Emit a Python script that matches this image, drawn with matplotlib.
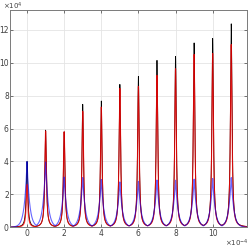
"""Periodic resonance peaks: total (black), red and blue components."""

import matplotlib
matplotlib.use('Agg')
import matplotlib.pyplot as plt
import numpy as np
from matplotlib.ticker import FuncFormatter

# peak positions (x 1e-4) and heights (x 1e4)
peak_pos = [0, 1, 2, 3, 4, 5, 6, 7, 8, 9, 10, 11]
black_h = [4.0, 5.9, 5.8, 7.47, 7.67, 8.68, 9.17, 10.14, 10.38, 11.2, 11.47, 12.36]
red_h = [2.6, 5.85, 5.8, 7.05, 7.3, 8.44, 8.56, 9.23, 9.63, 10.5, 10.56, 11.1]
blue_h = [4.0, 3.98, 3.05, 3.03, 2.9, 2.76, 2.8, 2.87, 2.87, 2.93, 2.97, 3.03]

x_ticks = [0, 2, 4, 6, 8, 10]
y_ticks = [0, 2, 4, 6, 8, 10, 12]

# peak half-widths (x 1e-4)
NARROW = 0.05
WIDE = 0.14

x = np.linspace(-0.92, 11.85, 8000)


def lorentz_peaks(heights, gamma):
    rows = [h * gamma**2 / ((x - p)**2 + gamma**2) for p, h in zip(peak_pos, heights)]
    return np.max(rows, axis=0)


def cusp_peaks(heights, w):
    rows = [h * np.exp(-np.abs(x - p) / w) for p, h in zip(peak_pos, heights)]
    return np.max(rows, axis=0)


fig = plt.figure(figsize=(2.49, 2.5), dpi=100)
ax = fig.add_axes([0.040, 0.091, 0.952, 0.869])

xs = x * 1e-4
ax.plot(xs, lorentz_peaks(black_h, NARROW) * 1e4, color='black', lw=0.6)
ax.plot(xs, lorentz_peaks(red_h, NARROW) * 1e4, color='red', lw=0.8, alpha=0.8)
ax.plot(xs, cusp_peaks(blue_h, WIDE) * 1e4, color='blue', lw=0.8, alpha=0.6)

ax.set_xlim(-0.92e-4, 11.85e-4)
ax.set_ylim(0, 13.2e4)
ax.set_xticks([t * 1e-4 for t in x_ticks])
ax.set_yticks([t * 1e4 for t in y_ticks])
ax.xaxis.set_major_formatter(FuncFormatter(lambda v, _: f'{v * 1e4:.0f}'))
ax.yaxis.set_major_formatter(FuncFormatter(lambda v, _: f'{v / 1e4:.0f}'))

txt = '#404040'
ax.grid(True, color='#e4e4e4', lw=0.6)
ax.set_axisbelow(True)
ax.tick_params(direction='in', top=True, right=True, length=2.5, width=0.5,
               labelsize=5.5, colors=txt, pad=1.5)
ax.tick_params(axis='y', pad=0.8)
for s in ax.spines.values():
    s.set_color('#7a7a7a')
    s.set_linewidth(0.7)

fig.text(0.014, 0.998, r'$\times10^{4}$', fontsize=5, color=txt, ha='left', va='top')
fig.text(0.998, 0.005, r'$\times10^{-4}$', fontsize=5, color=txt, ha='right', va='bottom')

fig.savefig('out.png', dpi=100)
